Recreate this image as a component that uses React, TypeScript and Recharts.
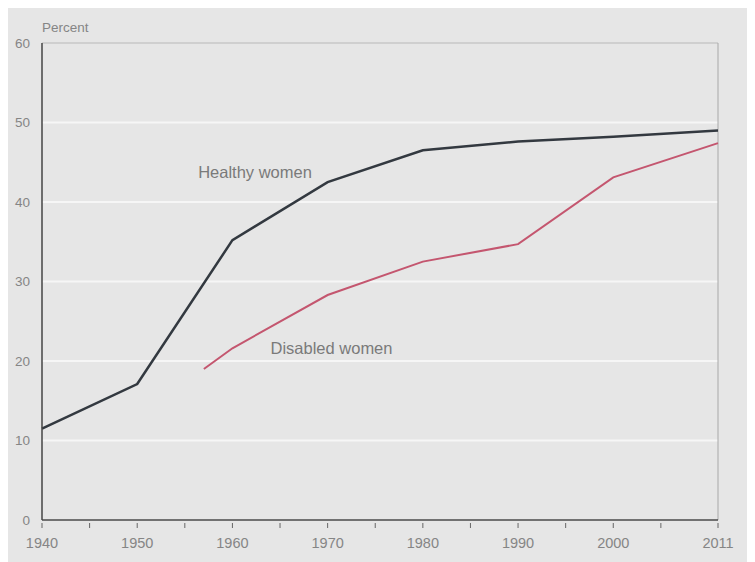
import React from "react";
import {
  LineChart,
  Line,
  XAxis,
  YAxis,
  CartesianGrid,
  ReferenceLine,
  ReferenceDot,
} from "recharts";

// Values
const years = [1940, 1950, 1957, 1960, 1970, 1980, 1990, 2000, 2011];
const healthyWomen = [11.5, 17.1, null, 35.2, 42.5, 46.5, 47.6, 48.2, 49.0];
const disabledWomen = [null, null, 19.0, 21.6, 28.3, 32.5, 34.7, 43.1, 47.4];

const xTicks = [1940, 1945, 1950, 1955, 1960, 1965, 1970, 1975, 1980, 1985, 1990, 1995, 2000, 2005, 2011];
const xLabelled = [1940, 1950, 1960, 1970, 1980, 1990, 2000, 2011];
const yTicks = [0, 10, 20, 30, 40, 50, 60];

const data = years.map((year, i) => ({
  year,
  healthy: healthyWomen[i],
  disabled: disabledWomen[i],
}));

const FONT = "'Liberation Sans', Arial, sans-serif";
const LABEL = "#858585";

function XTick({ x, y, payload }: any) {
  const v = payload.value as number;
  return (
    <g>
      <line x1={x} x2={x} y1={y} y2={y - 5} stroke="#666" strokeWidth={1} />
      {xLabelled.includes(v) && (
        <text x={x} y={y + 20} textAnchor="middle" fontSize={14.5} fill={LABEL} fontFamily={FONT}>
          {v}
        </text>
      )}
    </g>
  );
}

function SeriesLabel({ viewBox, value }: any) {
  return (
    <text x={viewBox.x} y={viewBox.y + 6} textAnchor="start" fontSize={16.5} fill="#7a7a7a" fontFamily={FONT}>
      {value}
    </text>
  );
}

export default function App() {
  return (
    <div style={{ width: 747, height: 554, background: "#e6e6e6", fontFamily: FONT, position: "relative" }}>
      <div style={{ position: "absolute", left: 34, top: 12, fontSize: 13.5, color: LABEL }}>Percent</div>
      <LineChart
        width={747}
        height={554}
        data={data}
        margin={{ top: 35, right: 37, bottom: 12, left: 0 }}
      >
        <CartesianGrid horizontal vertical={false} stroke="#f6f6f6" strokeWidth={2} />
        <XAxis
          dataKey="year"
          type="number"
          domain={[1940, 2011]}
          ticks={xTicks}
          interval={0}
          tick={<XTick />}
          tickLine={false}
          axisLine={{ stroke: "#444", strokeWidth: 1.5 }}
          height={30}
        />
        <YAxis
          type="number"
          domain={[0, 60]}
          ticks={yTicks}
          interval={0}
          width={34}
          tickLine={false}
          tick={{ fontSize: 13.5, fill: LABEL, fontFamily: FONT }}
          tickMargin={6}
          axisLine={{ stroke: "#444", strokeWidth: 1.5 }}
        />
        <ReferenceLine y={60} stroke="#a8a8a8" strokeWidth={1} />
        <ReferenceLine x={2011} stroke="#a8a8a8" strokeWidth={1} />
        <Line
          type="linear"
          dataKey="healthy"
          stroke="#333940"
          strokeWidth={2.5}
          dot={false}
          connectNulls
          isAnimationActive={false}
        />
        <Line
          type="linear"
          dataKey="disabled"
          stroke="#c4566f"
          strokeWidth={2}
          dot={false}
          connectNulls
          isAnimationActive={false}
        />
        <ReferenceDot x={1956.4} y={43.8} r={0} label={<SeriesLabel value="Healthy women" />} />
        <ReferenceDot x={1964} y={21.6} r={0} label={<SeriesLabel value="Disabled women" />} />
      </LineChart>
    </div>
  );
}
